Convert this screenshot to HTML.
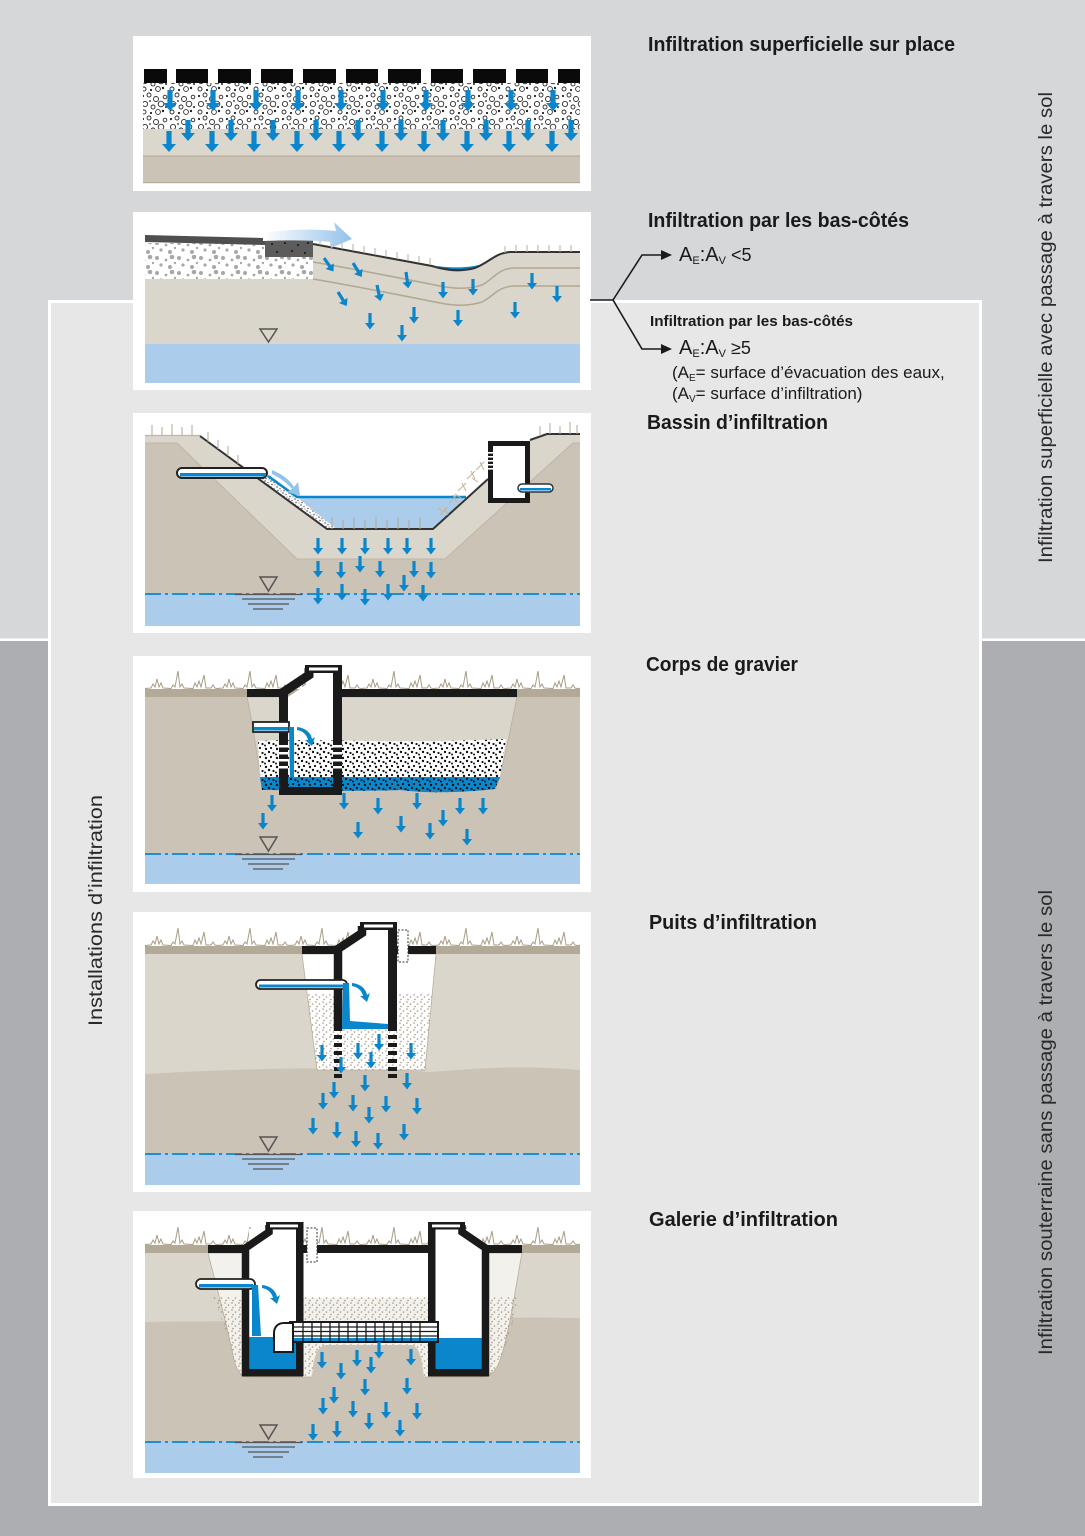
<!DOCTYPE html>
<html><head><meta charset="utf-8"><style>
html,body{margin:0;padding:0;background:#d6d7d9}
svg{display:block}
text{font-family:"Liberation Sans",sans-serif;fill:#1a1a1a}
</style></head><body>
<svg width="1085" height="1536" viewBox="0 0 1085 1536" xmlns="http://www.w3.org/2000/svg">
<defs>
<path id="A" d="M-1.6,0 h3.2 v10 h3.4 l-5,6.5 l-5,-6.5 h3.4 z" fill="#0a86cc"/>
<path id="B" d="M-2.6,0 h5.2 v13 h4.4 l-7,8 l-7,-8 h4.4 z" fill="#0a86cc"/>
<pattern id="grv" width="28" height="23" patternUnits="userSpaceOnUse">
<g fill="none" stroke="#2a2a2a" stroke-width="0.9">
<circle cx="9" cy="3" r="2"/><circle cx="16" cy="7" r="2.5"/><circle cx="5" cy="12" r="2.6"/><circle cx="13" cy="15" r="2"/><circle cx="21" cy="12" r="2.8"/><circle cx="4" cy="20" r="2"/><circle cx="18" cy="20" r="2.4"/><circle cx="25" cy="5" r="1.8"/>
</g>
<g fill="#222"><circle cx="3" cy="4" r="1.1"/><circle cx="23" cy="19" r="1.2"/><circle cx="11" cy="21" r="1.1"/><circle cx="26" cy="15" r="1"/><circle cx="10" cy="9" r="0.9"/></g>
</pattern>
<pattern id="gdot" width="22" height="15" patternUnits="userSpaceOnUse">
<g fill="#a8a8a8"><circle cx="3" cy="3" r="2"/><circle cx="12" cy="5" r="1.4"/><circle cx="18" cy="2" r="2.3"/><circle cx="7" cy="10" r="1.6"/><circle cx="16" cy="12" r="2"/><circle cx="21" cy="8" r="1.2"/></g>
</pattern>
<pattern id="sand" width="7" height="7" patternUnits="userSpaceOnUse">
<g fill="#a3957f"><circle cx="1" cy="1" r="0.8"/><circle cx="4.5" cy="3" r="0.8"/><circle cx="2" cy="5.5" r="0.8"/></g>
</pattern>
<pattern id="gsand" width="6" height="6" patternUnits="userSpaceOnUse">
<rect width="6" height="6" fill="#fff"/>
<g fill="#777"><circle cx="1" cy="1" r="0.9"/><circle cx="4" cy="2.5" r="0.8"/><circle cx="2" cy="4.5" r="0.9"/><circle cx="5" cy="5" r="0.6"/></g>
</pattern>
<pattern id="bdot" width="11" height="9" patternUnits="userSpaceOnUse">
<g fill="#111"><circle cx="2" cy="2" r="1.2"/><circle cx="7" cy="1" r="1.1"/><circle cx="5" cy="5" r="1.2"/><circle cx="9.5" cy="6" r="1.1"/><circle cx="1" cy="7.5" r="1"/></g>
</pattern>
<pattern id="grass" width="72" height="24" patternUnits="userSpaceOnUse">
<path d="M0,23.5 L6,23 L8,19 L10,22 L12,14 L14,22 L16,18 L18,23 L26,23.5 L28,20 L30,22 L33,6 L35,22 L37,19 L39,23 L48,23.5 L50,18 L52,22 L54,16 L56,22 L59,10 L61,23 L66,23 L68,20 L70,23 L72,23.5" fill="none" stroke="#a89c86" stroke-width="1"/>
</pattern>
<linearGradient id="flow" x1="0" x2="1" y1="0" y2="0">
<stop offset="0" stop-color="#ffffff"/><stop offset="1" stop-color="#93c2ea"/>
</linearGradient>
</defs>

<!-- backgrounds -->
<rect x="0" y="0" width="1085" height="640" fill="#d6d7d9"/>
<rect x="0" y="640" width="1085" height="896" fill="#adaeb1"/>
<rect x="0" y="638.5" width="1085" height="2.5" fill="#fff"/>
<rect x="49.5" y="301.5" width="931" height="1203" fill="#e7e7e7" stroke="#fff" stroke-width="3"/>

<!-- ================= PANEL 1 ================= -->
<rect x="133" y="36" width="458" height="155" fill="#fff"/>
<rect x="143" y="129" width="437" height="27" fill="#dcd7cc"/>
<rect x="143" y="156" width="437" height="27" fill="#cbc3b6"/>
<rect x="143" y="155.5" width="437" height="1.2" fill="#b5aa98"/>
<rect x="143" y="182" width="437" height="1.2" fill="#b5aa98"/>
<rect x="143" y="83" width="437" height="46" fill="url(#grv)"/>
<g fill="#0a0a0a">
<rect x="144" y="69" width="23" height="14"/><rect x="176" y="69" width="32" height="14"/><rect x="218" y="69" width="33" height="14"/><rect x="261" y="69" width="32" height="14"/><rect x="303" y="69" width="33" height="14"/><rect x="346" y="69" width="32" height="14"/><rect x="388" y="69" width="33" height="14"/><rect x="431" y="69" width="32" height="14"/><rect x="473" y="69" width="33" height="14"/><rect x="516" y="69" width="32" height="14"/><rect x="558" y="69" width="22" height="14"/>
</g>
<g>
<use href="#B" x="170" y="90"/><use href="#B" x="213" y="90"/><use href="#B" x="256" y="90"/><use href="#B" x="298" y="90"/><use href="#B" x="341" y="90"/><use href="#B" x="383" y="90"/><use href="#B" x="426" y="90"/><use href="#B" x="468" y="90"/><use href="#B" x="511" y="90"/><use href="#B" x="553" y="90"/>
<use href="#B" x="188" y="120"/><use href="#B" x="231" y="120"/><use href="#B" x="273" y="120"/><use href="#B" x="316" y="120"/><use href="#B" x="358" y="120"/><use href="#B" x="401" y="120"/><use href="#B" x="443" y="120"/><use href="#B" x="486" y="120"/><use href="#B" x="528" y="120"/><use href="#B" x="571" y="120"/>
<use href="#B" x="169" y="131"/><use href="#B" x="212" y="131"/><use href="#B" x="254" y="131"/><use href="#B" x="297" y="131"/><use href="#B" x="339" y="131"/><use href="#B" x="382" y="131"/><use href="#B" x="424" y="131"/><use href="#B" x="467" y="131"/><use href="#B" x="509" y="131"/><use href="#B" x="552" y="131"/>
</g>

<!-- ================= PANEL 2 ================= -->
<rect x="133" y="212" width="458" height="178" fill="#fff"/>
<path d="M145,279 H313 V244 L432,266 C445,270 460,272 475,268 C490,262 495,253 510,252 H580 V344 H145 Z" fill="#dbd6cc"/>
<rect x="145" y="344" width="435" height="39" fill="#abcdeb"/>
<rect x="145" y="243" width="168" height="36" fill="#fff"/>
<rect x="145" y="243" width="168" height="36" fill="url(#gdot)"/>
<polygon points="145,235 265,238 265,245 145,242" fill="#4f4f4f"/>
<rect x="265" y="238" width="48" height="19" fill="#5c5c5c"/>
<g fill="#111"><circle cx="272" cy="244" r="1"/><circle cx="285" cy="243" r="1"/><circle cx="298" cy="245" r="1"/><circle cx="308" cy="243" r="1"/><circle cx="277" cy="252" r="1"/><circle cx="292" cy="251" r="1"/><circle cx="305" cy="253" r="1"/></g>
<path d="M313,262 C360,270 410,280 440,286 C455,289 470,289 482,285 C494,279 498,268 515,268 H580" fill="none" stroke="#b3a791" stroke-width="1.5"/>
<path d="M313,279 C360,287 410,297 440,303 C455,306 470,306 482,302 C494,296 498,286 515,286 H580" fill="none" stroke="#b3a791" stroke-width="1.5"/>
<path d="M437,266 C450,268 465,268 479,265 C472,271 456,273 445,270 Z" fill="#0a86cc"/>
<path d="M313,244 L432,266 C445,270 460,272 475,268 C490,262 495,253 510,252 H580" fill="none" stroke="#333" stroke-width="2"/>
<path d="M320,245 v-7 M331,247 v-7 M342,249 v-7 M353,251 v-7 M364,253 v-7 M375,255 v-7 M386,257 v-7 M397,259 v-7 M408,261 v-7 M419,263 v-7 M430,265 v-7 M505,253 v-7 M516,252 v-7 M527,252 v-7 M538,252 v-7 M549,252 v-7 M560,252 v-7 M571,252 v-7" stroke="#b8ad99" stroke-width="1"/>
<path d="M263,233 C290,229 315,229 336,231 L334,222 L352,239 L331,248 L332,242 C310,240 290,240 263,241 Z" fill="url(#flow)"/>
<g>
<use href="#A" transform="translate(324,258) rotate(-35)"/>
<use href="#A" transform="translate(353,263) rotate(-32)"/>
<use href="#A" transform="translate(338,292) rotate(-32)"/>
<use href="#A" transform="translate(377,285) rotate(-12)"/>
<use href="#A" transform="translate(406,272) rotate(-8)"/>
<use href="#A" x="370" y="313"/><use href="#A" x="402" y="325"/><use href="#A" x="414" y="307"/><use href="#A" x="443" y="282"/><use href="#A" x="458" y="310"/><use href="#A" x="473" y="279"/><use href="#A" x="515" y="302"/><use href="#A" x="532" y="273"/><use href="#A" x="557" y="286"/>
</g>
<polygon points="260,329 277,329 268.5,342" fill="none" stroke="#555" stroke-width="1.5"/>

<!-- ================= PANEL 3 ================= -->
<rect x="133" y="413" width="458" height="220" fill="#fff"/>
<rect x="145" y="435" width="435" height="159" fill="#cbc3b6"/>
<path d="M145,435 H200 L327,529 H433 L530,440 L547,434 H580 V443 H573 L445,559 H297 L177,443 H145 Z" fill="#dbd6cc"/>
<path d="M200,435 L327,529 H433 L530,440 L547,433 H580 V414 H145 V435 Z" fill="#fff"/>
<path d="M145,443 H177 L297,559 H445 L573,443 H580" fill="none" stroke="#bfb5a4" stroke-width="1"/>
<polygon points="297,497 466,497 433,529 336,529" fill="#abcdeb"/>
<polygon points="252,474 270,475 336,529 327,529" fill="url(#gsand)"/>
<path d="M268,476 L297,497 H466" fill="none" stroke="#0a86cc" stroke-width="2.5"/>
<path d="M272,470 C282,474 290,480 294,487 L298,482 L300,496 L287,492 L292,489 C287,483 280,478 272,474 Z" fill="#93c2ea"/>
<path d="M145,435.5 H200" stroke="#bfb5a4" stroke-width="1.2"/>
<path d="M200,436 L327,529 H433 L488,479 M530,440 L547,434 H580" fill="none" stroke="#333" stroke-width="2"/>
<path d="M152,435 v-10 M162,435 v-8 M172,435 v-11 M182,435 v-8 M192,435 v-10 M208,442 v-10 M218,449 v-9 M228,456 v-10 M238,464 v-9 M332,529 v-12 M343,529 v-9 M354,529 v-12 M365,529 v-9 M376,529 v-12 M387,529 v-9 M398,529 v-12 M409,529 v-9 M420,529 v-12 M540,436 v-10 M550,434 v-11 M560,434 v-8 M570,434 v-12 M577,434 v-9" stroke="#b3a791" stroke-width="1"/>
<g stroke="#c4b39a" stroke-width="1" fill="none">
<path d="M440,515 l8,-8 M444,507 l4,8 M449,503 l8,-8 M453,495 l4,8 M458,491 l8,-8 M462,483 l4,8 M467,479 l8,-8 M471,471 l4,8 M476,470 l8,-8 M480,462 l4,8 M438,508 l6,4 M455,494 l6,4 M472,478 l6,4"/>
</g>
<rect x="488" y="441" width="42" height="62" fill="#1a1a1a"/>
<rect x="493" y="446" width="32" height="52" fill="#fff"/>
<g fill="#fff"><rect x="488" y="452" width="5" height="1.6"/><rect x="488" y="456" width="5" height="1.6"/><rect x="488" y="460" width="5" height="1.6"/><rect x="488" y="464" width="5" height="1.6"/><rect x="488" y="468" width="5" height="1.6"/></g>
<rect x="518" y="484" width="35" height="8" rx="4" fill="#fff" stroke="#333" stroke-width="1.5"/>
<rect x="520" y="488" width="31" height="2.5" fill="#0a86cc"/>
<rect x="177" y="468" width="90" height="10" rx="5" fill="#fff" stroke="#222" stroke-width="2"/>
<rect x="180" y="473" width="86" height="3.5" fill="#0a86cc"/>
<rect x="145" y="594" width="435" height="32" fill="#abcdeb"/>
<line x1="145" y1="594" x2="580" y2="594" stroke="#1d8fd3" stroke-width="2" stroke-dasharray="16 4 3 4"/>
<polygon points="260,577 277,577 268.5,591" fill="none" stroke="#555" stroke-width="1.5"/>
<path d="M235,594.5 H302 M242,599 H295 M248,604 H289 M253,609 H283" stroke="#555" stroke-width="1.2"/>
<g>
<use href="#A" x="318" y="538"/><use href="#A" x="342" y="538"/><use href="#A" x="365" y="538"/><use href="#A" x="388" y="538"/><use href="#A" x="407" y="538"/><use href="#A" x="431" y="538"/>
<use href="#A" x="318" y="561"/><use href="#A" x="341" y="562"/><use href="#A" x="360" y="556"/><use href="#A" x="380" y="561"/><use href="#A" x="414" y="561"/><use href="#A" x="431" y="562"/>
<use href="#A" x="318" y="588"/><use href="#A" x="342" y="584"/><use href="#A" x="365" y="589"/><use href="#A" x="388" y="584"/><use href="#A" x="404" y="575"/><use href="#A" x="423" y="585"/>
</g>

<!-- ================= PANEL 4 ================= -->
<rect x="133" y="656" width="458" height="236" fill="#fff"/>
<rect x="145" y="697" width="435" height="157" fill="#cbc3b6"/>
<g transform="translate(145,665)"><rect x="0" y="0" width="435" height="24" fill="url(#grass)"/></g>
<rect x="145" y="689" width="435" height="8" fill="#b2a997"/>
<path d="M247,697 H517 C510,730 505,760 496,788 H262 C258,760 254,730 247,697 Z" fill="#dbd6cc" stroke="#b9ae9b" stroke-width="0.8"/>
<polygon points="288,697 288,790 333,790 333,673 313,673 313,680" fill="#fff"/>
<path d="M258,741 C300,738 400,744 506,739 L500,777 H260 Z" fill="#fff"/>
<path d="M260,777 H500 L495,789 C470,792 430,794 400,790 C350,792 300,790 262,790 Z" fill="#0a86cc"/>
<path d="M258,741 C300,738 400,744 506,739 L500,777 L495,789 C470,792 430,794 400,790 C350,792 300,790 262,790 Z" fill="url(#bdot)"/>
<rect x="247" y="689" width="36" height="8" fill="#1a1a1a"/>
<rect x="338" y="689" width="179" height="8" fill="#1a1a1a"/>
<path d="M283.5,795 V692 L309,675 V668" fill="none" stroke="#1a1a1a" stroke-width="9"/>
<rect x="333" y="666" width="9" height="129" fill="#1a1a1a"/>
<rect x="279" y="787" width="63" height="8" fill="#1a1a1a"/>
<rect x="305" y="665" width="37" height="8" fill="#1a1a1a"/>
<rect x="309" y="667.5" width="29" height="3" fill="#fff"/>
<g fill="#fff"><rect x="279" y="745" width="9" height="2.5"/><rect x="279" y="752" width="9" height="2.5"/><rect x="279" y="759" width="9" height="2.5"/><rect x="279" y="766" width="9" height="2.5"/><rect x="333" y="745" width="9" height="2.5"/><rect x="333" y="752" width="9" height="2.5"/><rect x="333" y="759" width="9" height="2.5"/><rect x="333" y="766" width="9" height="2.5"/></g>
<rect x="253" y="722" width="36" height="10" fill="#fff" stroke="#222" stroke-width="1.8"/>
<rect x="254" y="727" width="34" height="3.5" fill="#0a86cc"/>
<path d="M289,727 H294 V778 H290 Z" fill="#0a86cc"/>
<path d="M297,727 C306,728 311,733 312,739 L315,737 L312,746 L305,740 L308,740 C307,735 303,731 297,730 Z" fill="#0a86cc"/>
<g>
<use href="#A" x="272" y="795"/><use href="#A" x="263" y="813"/><use href="#A" x="344" y="793"/><use href="#A" x="378" y="798"/><use href="#A" x="417" y="793"/><use href="#A" x="460" y="798"/><use href="#A" x="483" y="798"/><use href="#A" x="443" y="810"/><use href="#A" x="358" y="822"/><use href="#A" x="401" y="816"/><use href="#A" x="430" y="823"/><use href="#A" x="467" y="829"/>
</g>
<rect x="145" y="854" width="435" height="30" fill="#abcdeb"/>
<line x1="145" y1="854" x2="580" y2="854" stroke="#1d8fd3" stroke-width="2" stroke-dasharray="16 4 3 4"/>
<polygon points="260,837 277,837 268.5,851" fill="none" stroke="#555" stroke-width="1.5"/>
<path d="M235,854.5 H302 M242,859 H295 M248,864 H289 M253,869 H283" stroke="#555" stroke-width="1.2"/>

<!-- ================= PANEL 5 ================= -->
<rect x="133" y="912" width="458" height="280" fill="#fff"/>
<rect x="145" y="954" width="435" height="120" fill="#dbd6cc"/>
<path d="M145,1074 C250,1068 350,1066 430,1072 C480,1068 520,1065 580,1070 V1154 H145 Z" fill="#cbc3b6"/>
<g transform="translate(145,922)"><rect x="0" y="0" width="435" height="24" fill="url(#grass)"/></g>
<rect x="145" y="946" width="435" height="8" fill="#b2a997"/>
<path d="M302,954 H436 L425,1070 H317 Z" fill="#fff" stroke="#b9ae9b" stroke-width="0.8"/>
<path d="M307,993 H432 L425,1070 H317 Z" fill="url(#sand)"/>
<polygon points="342,954 342,1029 388,1029 388,929 365,929 365,934 342,950" fill="#fff"/>
<rect x="302" y="946" width="36" height="8" fill="#1a1a1a"/>
<rect x="397" y="946" width="39" height="8" fill="#1a1a1a"/>
<path d="M338,1031 V949 L362,933 V926" fill="none" stroke="#1a1a1a" stroke-width="8.5"/>
<rect x="388" y="922" width="9" height="109" fill="#1a1a1a"/>
<rect x="360" y="922" width="37" height="8" fill="#1a1a1a"/>
<rect x="364" y="924.5" width="29" height="3" fill="#fff"/>
<g fill="#1a1a1a">
<rect x="334" y="1035" width="8" height="4"/><rect x="334" y="1043" width="8" height="4"/><rect x="334" y="1051" width="8" height="4"/><rect x="334" y="1059" width="8" height="4"/><rect x="334" y="1067" width="8" height="4"/><rect x="334" y="1074" width="8" height="4"/>
<rect x="388" y="1035" width="9" height="4"/><rect x="388" y="1043" width="9" height="4"/><rect x="388" y="1051" width="9" height="4"/><rect x="388" y="1059" width="9" height="4"/><rect x="388" y="1067" width="9" height="4"/><rect x="388" y="1074" width="9" height="4"/>
</g>
<rect x="398" y="930" width="10" height="32" fill="#fff" stroke="#333" stroke-width="1" stroke-dasharray="2 1.5"/>
<rect x="256" y="980" width="91" height="9" rx="4.5" fill="#fff" stroke="#222" stroke-width="1.8"/>
<rect x="259" y="984.5" width="86" height="3" fill="#0a86cc"/>
<path d="M343,983 L349,983 L350,1021 L388,1024 L388,1029 L342,1029 Z" fill="#0a86cc"/>
<path d="M352,983 C361,984 366,989 367,995 L370,993 L367,1002 L360,996 L363,996 C362,991 358,987 352,986 Z" fill="#0a86cc"/>
<g>
<use href="#A" x="322" y="1045"/><use href="#A" x="341" y="1057"/><use href="#A" x="358" y="1043"/><use href="#A" x="371" y="1052"/><use href="#A" x="379" y="1034"/><use href="#A" x="411" y="1043"/>
<use href="#A" x="334" y="1082"/><use href="#A" x="365" y="1075"/><use href="#A" x="407" y="1073"/><use href="#A" x="323" y="1093"/><use href="#A" x="353" y="1095"/><use href="#A" x="386" y="1096"/><use href="#A" x="417" y="1098"/><use href="#A" x="369" y="1107"/><use href="#A" x="313" y="1118"/><use href="#A" x="337" y="1122"/><use href="#A" x="356" y="1131"/><use href="#A" x="378" y="1133"/><use href="#A" x="404" y="1124"/>
</g>
<rect x="145" y="1154" width="435" height="31" fill="#abcdeb"/>
<line x1="145" y1="1154" x2="580" y2="1154" stroke="#1d8fd3" stroke-width="2" stroke-dasharray="16 4 3 4"/>
<polygon points="260,1137 277,1137 268.5,1151" fill="none" stroke="#555" stroke-width="1.5"/>
<path d="M235,1154.5 H302 M242,1159 H295 M248,1164 H289 M253,1169 H283" stroke="#555" stroke-width="1.2"/>

<!-- ================= PANEL 6 ================= -->
<rect x="133" y="1211" width="458" height="267" fill="#fff"/>
<rect x="145" y="1253" width="435" height="72" fill="#dbd6cc"/>
<path d="M145,1322 C250,1320 400,1323 460,1320 C520,1316 560,1318 580,1318 V1442 H145 Z" fill="#cbc3b6"/>
<g transform="translate(145,1221)"><rect x="0" y="0" width="435" height="24" fill="url(#grass)"/></g>
<rect x="145" y="1245" width="435" height="8" fill="#b2a997"/>
<path d="M208,1253 H522 C515,1290 510,1330 500,1360 C496,1372 490,1377 480,1377 H250 C240,1377 236,1370 233,1355 C226,1320 216,1285 208,1253 Z" fill="#f3f1ec" stroke="#b9ae9b" stroke-width="0.8"/>
<rect x="303" y="1253" width="125" height="45" fill="#fff"/>
<path d="M213,1297 H518 C513,1325 508,1345 500,1360 C496,1372 490,1377 480,1377 H250 C240,1377 236,1370 233,1355 C228,1335 220,1315 213,1297 Z" fill="url(#sand)"/>
<path d="M312,1378 C313,1360 316,1346 326,1345 H410 C420,1345 422,1360 424,1378 Z" fill="#cbc3b6"/>
<rect x="249" y="1229" width="47" height="108" fill="#fff"/>
<rect x="435" y="1229" width="47" height="109" fill="#fff"/>
<rect x="249" y="1337" width="47" height="33" fill="#0a86cc"/>
<rect x="435" y="1338" width="47" height="32" fill="#0a86cc"/>
<rect x="208" y="1245" width="37" height="8" fill="#1a1a1a"/>
<rect x="303" y="1245" width="125" height="8" fill="#1a1a1a"/>
<rect x="487" y="1245" width="35" height="8" fill="#1a1a1a"/>
<path d="M245.5,1376 V1248 L269,1232 V1225" fill="none" stroke="#1a1a1a" stroke-width="7.5"/>
<rect x="296" y="1222" width="7.5" height="154" fill="#1a1a1a"/>
<rect x="242" y="1369" width="61" height="7.5" fill="#1a1a1a"/>
<rect x="266" y="1222" width="37" height="7.5" fill="#1a1a1a"/>
<rect x="270" y="1224.5" width="28" height="2.8" fill="#fff"/>
<rect x="428" y="1222" width="7.5" height="154" fill="#1a1a1a"/>
<path d="M485.5,1376 V1248 L462,1232 V1225" fill="none" stroke="#1a1a1a" stroke-width="7.5"/>
<rect x="428" y="1369" width="61" height="7.5" fill="#1a1a1a"/>
<rect x="428" y="1222" width="37" height="7.5" fill="#1a1a1a"/>
<rect x="432" y="1224.5" width="28" height="2.8" fill="#fff"/>
<rect x="307" y="1228" width="10" height="34" fill="#fff" stroke="#333" stroke-width="1" stroke-dasharray="2 1.5"/>
<rect x="196" y="1279" width="59" height="10" rx="5" fill="#fff" stroke="#222" stroke-width="1.8"/>
<rect x="199" y="1284" width="54" height="3.5" fill="#0a86cc"/>
<path d="M252,1285 H258 L261,1336 H252 Z" fill="#0a86cc"/>
<path d="M262,1285 C271,1286 276,1291 277,1297 L280,1295 L277,1304 L270,1298 L273,1298 C272,1293 268,1289 262,1288 Z" fill="#0a86cc"/>
<rect x="290" y="1322" width="148" height="20" fill="#fff" stroke="#1a1a1a" stroke-width="2"/>
<rect x="291" y="1338" width="146" height="3" fill="#0a86cc"/>
<g stroke="#1a1a1a" stroke-width="1.3">
<path d="M291,1327 H437 M291,1331.5 H437 M291,1336 H437"/>
<path d="M303,1322 V1342 M312,1322 V1342 M321,1322 V1342 M330,1322 V1342 M339,1322 V1342 M348,1322 V1342 M357,1322 V1342 M366,1322 V1342 M375,1322 V1342 M384,1322 V1342 M393,1322 V1342 M402,1322 V1342 M411,1322 V1342 M420,1322 V1342"/>
</g>
<path d="M274,1352 V1333 C274,1327 278,1323 284,1323 H293 V1352 Z" fill="#fff" stroke="#1a1a1a" stroke-width="2"/>
<g>
<use href="#A" x="322" y="1352"/><use href="#A" x="357" y="1350"/><use href="#A" x="371" y="1357"/><use href="#A" x="379" y="1342"/><use href="#A" x="411" y="1349"/><use href="#A" x="341" y="1363"/><use href="#A" x="365" y="1379"/><use href="#A" x="407" y="1378"/><use href="#A" x="334" y="1387"/><use href="#A" x="323" y="1398"/><use href="#A" x="353" y="1401"/><use href="#A" x="386" y="1402"/><use href="#A" x="417" y="1403"/><use href="#A" x="369" y="1413"/><use href="#A" x="313" y="1424"/><use href="#A" x="337" y="1421"/><use href="#A" x="400" y="1420"/>
</g>
<rect x="145" y="1442" width="435" height="31" fill="#abcdeb"/>
<line x1="145" y1="1442" x2="580" y2="1442" stroke="#1d8fd3" stroke-width="2" stroke-dasharray="16 4 3 4"/>
<polygon points="260,1425 277,1425 268.5,1439" fill="none" stroke="#555" stroke-width="1.5"/>
<path d="M235,1442.5 H302 M242,1447 H295 M248,1452 H289 M253,1457 H283" stroke="#555" stroke-width="1.2"/>

<!-- ================= connectors ================= -->
<g stroke="#1a1a1a" stroke-width="1.6" fill="none">
<polyline points="590,300 613,300 642,255 664,255"/>
<polyline points="613,300 642,349 664,349"/>
</g>
<polygon points="661,250 672,255 661,260" fill="#1a1a1a"/>
<polygon points="661,344 672,349 661,354" fill="#1a1a1a"/>

<!-- ================= text ================= -->
<g font-weight="bold" font-size="20">
<text x="648" y="51" textLength="307" lengthAdjust="spacingAndGlyphs">Infiltration superficielle sur place</text>
<text x="648" y="227" textLength="261" lengthAdjust="spacingAndGlyphs">Infiltration par les bas-côtés</text>
<text x="647" y="429" textLength="181" lengthAdjust="spacingAndGlyphs">Bassin d’infiltration</text>
<text x="646" y="671" textLength="152" lengthAdjust="spacingAndGlyphs">Corps de gravier</text>
<text x="649" y="929" textLength="168" lengthAdjust="spacingAndGlyphs">Puits d’infiltration</text>
<text x="649" y="1226" textLength="189" lengthAdjust="spacingAndGlyphs">Galerie d’infiltration</text>
</g>
<text x="650" y="326" font-weight="bold" font-size="15" textLength="203" lengthAdjust="spacingAndGlyphs">Infiltration par les bas-côtés</text>
<text x="679" y="261" font-size="20">A<tspan font-size="11" dy="3">E</tspan><tspan dy="-3">:A</tspan><tspan font-size="11" dy="3">V</tspan><tspan dy="-3" font-size="18"> &lt;5</tspan></text>
<text x="679" y="354" font-size="20">A<tspan font-size="11" dy="3">E</tspan><tspan dy="-3">:A</tspan><tspan font-size="11" dy="3">V</tspan><tspan dy="-3" font-size="18"> ≥5</tspan></text>
<text x="672" y="378" font-size="17">(A<tspan font-size="10" dy="3">E</tspan><tspan dy="-3">= surface d’évacuation des eaux,</tspan></text>
<text x="672" y="399" font-size="17">(A<tspan font-size="10" dy="3">V</tspan><tspan dy="-3">= surface d’infiltration)</tspan></text>

<g font-size="19">
<text transform="translate(1052,563) rotate(-90)" textLength="471" lengthAdjust="spacingAndGlyphs" style="fill:#2a2a2a">Infiltration superficielle avec passage à travers le sol</text>
<text transform="translate(1052,1355) rotate(-90)" textLength="465" lengthAdjust="spacingAndGlyphs" style="fill:#2a2a2a">Infiltration souterraine sans passage à travers le sol</text>
<text transform="translate(102,1026) rotate(-90)" textLength="231" lengthAdjust="spacingAndGlyphs" style="fill:#2a2a2a">Installations d’infiltration</text>
</g>
</svg>
</body></html>
